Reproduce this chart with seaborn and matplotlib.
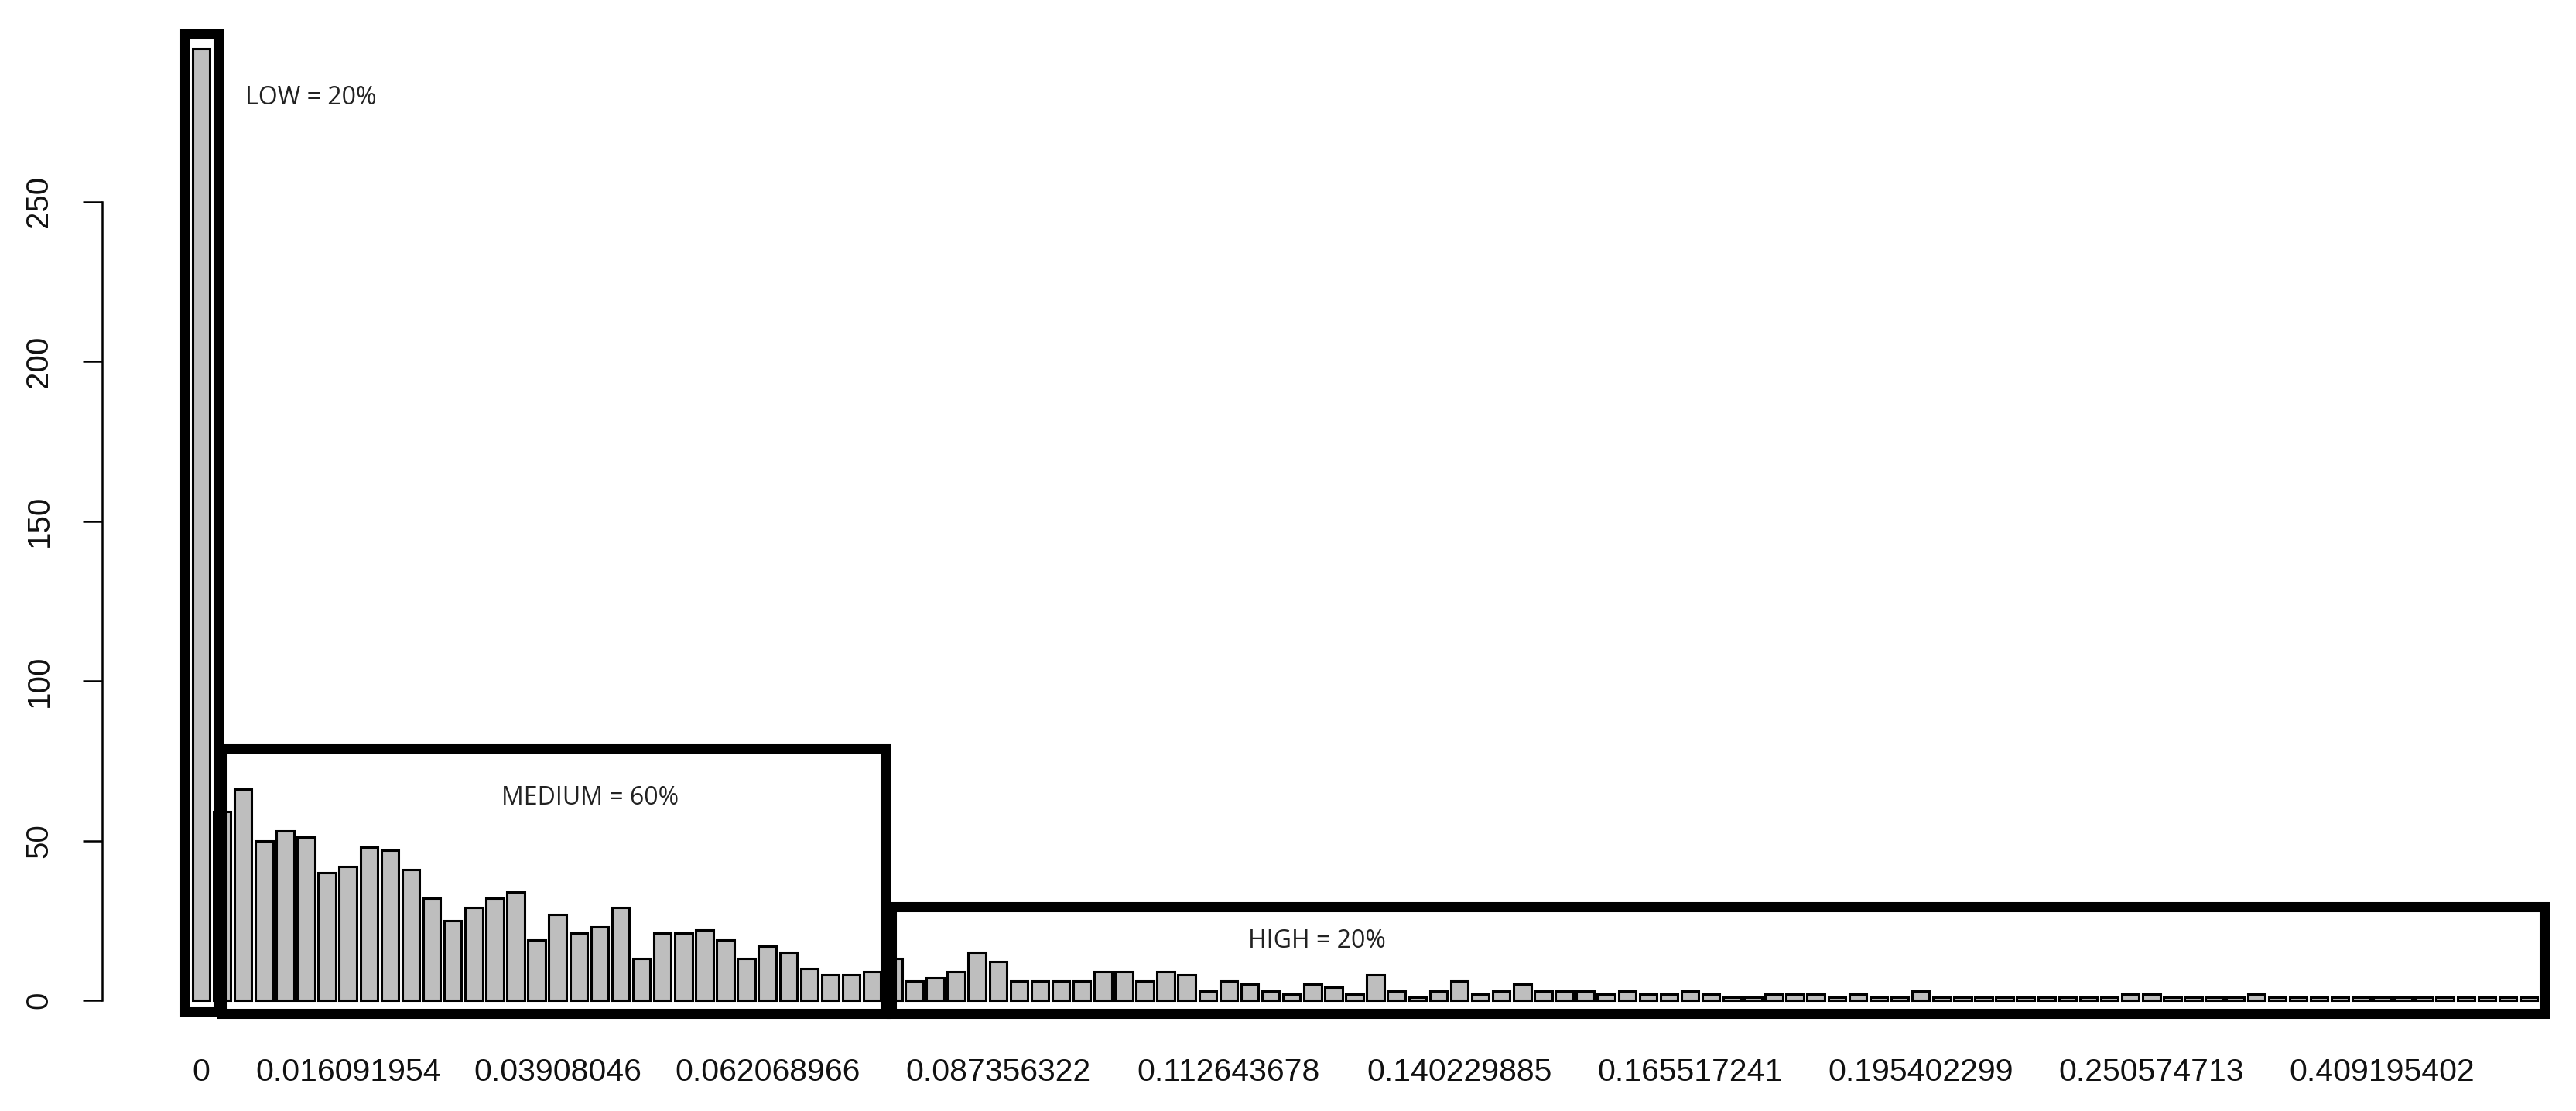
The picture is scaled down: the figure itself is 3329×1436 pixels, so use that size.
import matplotlib
matplotlib.use("Agg")
import matplotlib.pyplot as plt
import seaborn as sns
import pandas as pd
from matplotlib.patches import Rectangle

# ---- data -------------------------------------------------------------
counts = [298,
          59, 66, 50, 53, 51, 40, 42, 48, 47, 41, 32, 25, 29, 32, 34,
          19, 27, 21, 23, 29, 13, 21, 21, 22, 19, 13, 17, 15, 10, 8, 8, 9,
          13, 6, 7, 9, 15, 12, 6, 6, 6, 6, 9, 9, 6, 9, 8,
          3, 6, 5, 3, 2, 5, 4, 2, 8, 3, 1, 3, 6, 2, 3, 5,
          3, 3, 3, 2, 3, 2, 2, 3, 2, 1, 1, 2, 2, 2, 1, 2,
          1, 1, 3, 1, 1, 1, 1, 1, 1, 1, 1, 1, 2, 2, 1, 1,
          1, 1, 2, 1, 1, 1, 1, 1, 1, 1, 1, 1, 1, 1, 1, 1]
bins = list(range(len(counts)))

label_bins = [0, 7, 17, 27, 38, 49, 60, 71, 82, 93, 104]
label_texts = ["0", "0.016091954", "0.03908046", "0.062068966", "0.087356322",
               "0.112643678", "0.140229885", "0.165517241", "0.195402299",
               "0.250574713", "0.409195402"]

y_ticks = [0, 50, 100, 150, 200, 250]

region_names = ["LOW = 20%", "MEDIUM = 60%", "HIGH = 20%"]
region_x = [(-0.83, 0.81), (1.01, 32.62), (32.91, 111.75)]
region_y = [(-3.4, 302.4), (-4.1, 79.0), (-4.1, 29.4)]
region_text_xy = [(2.12, 282.6), (14.32, 63.3), (49.93, 18.5)]

# ---- figure -----------------------------------------------------------
sns.set_theme(style="white")
plt.rcParams["font.family"] = ["Liberation Sans", "DejaVu Sans"]

W, H = 3330, 1436
fig = plt.figure(figsize=(W / 100, H / 100), dpi=100)
left_px, bottom_px = 132, 1342
ax = fig.add_axes([left_px / W, (H - bottom_px) / H, 1 - left_px / W, bottom_px / H])

df = pd.DataFrame({"bin": bins, "count": counts})
sns.barplot(data=df, x="bin", y="count", order=bins, color="#BEBEBE",
            saturation=1, width=1 / 1.2, edgecolor="black", linewidth=2.2, ax=ax)

px_per_unit = 27.1
ax.set_xlim(-(260 - left_px) / px_per_unit, (W - 260) / px_per_unit)
ax.set_ylim((1293 - bottom_px) / 4.129, 1293 / 4.129)

for s in ["top", "right", "bottom"]:
    ax.spines[s].set_visible(False)
ax.spines["left"].set_bounds(0, 250)
ax.spines["left"].set_linewidth(1.8)
ax.spines["left"].set_color("black")

ax.set_yticks(y_ticks)
ax.set_yticklabels([str(v) for v in y_ticks], rotation=90, va="center",
                   fontsize=29, color="#111111")
ax.tick_params(axis="y", which="both", left=True, length=18, width=1.8,
               color="black", pad=27)

ax.set_xticks(label_bins)
ax.set_xticklabels(label_texts, fontsize=29.5, color="#111111")
ax.tick_params(axis="x", which="both", bottom=False, length=0, pad=18)
ax.set_xlabel("")
ax.set_ylabel("")
ax.grid(False)

for (x0, x1), (y0, y1), name, (tx, ty) in zip(region_x, region_y, region_names, region_text_xy):
    ax.add_patch(Rectangle((x0, y0), x1 - x0, y1 - y0, fill=False,
                           edgecolor="black", linewidth=9.4, clip_on=False,
                           joinstyle="miter", zorder=5))
    ax.text(tx, ty, name, ha="left", va="center", fontsize=23,
            family=["Open Sans", "DejaVu Sans"], color="#222222", zorder=6)

fig.savefig("out.png", dpi=100, facecolor="white")
